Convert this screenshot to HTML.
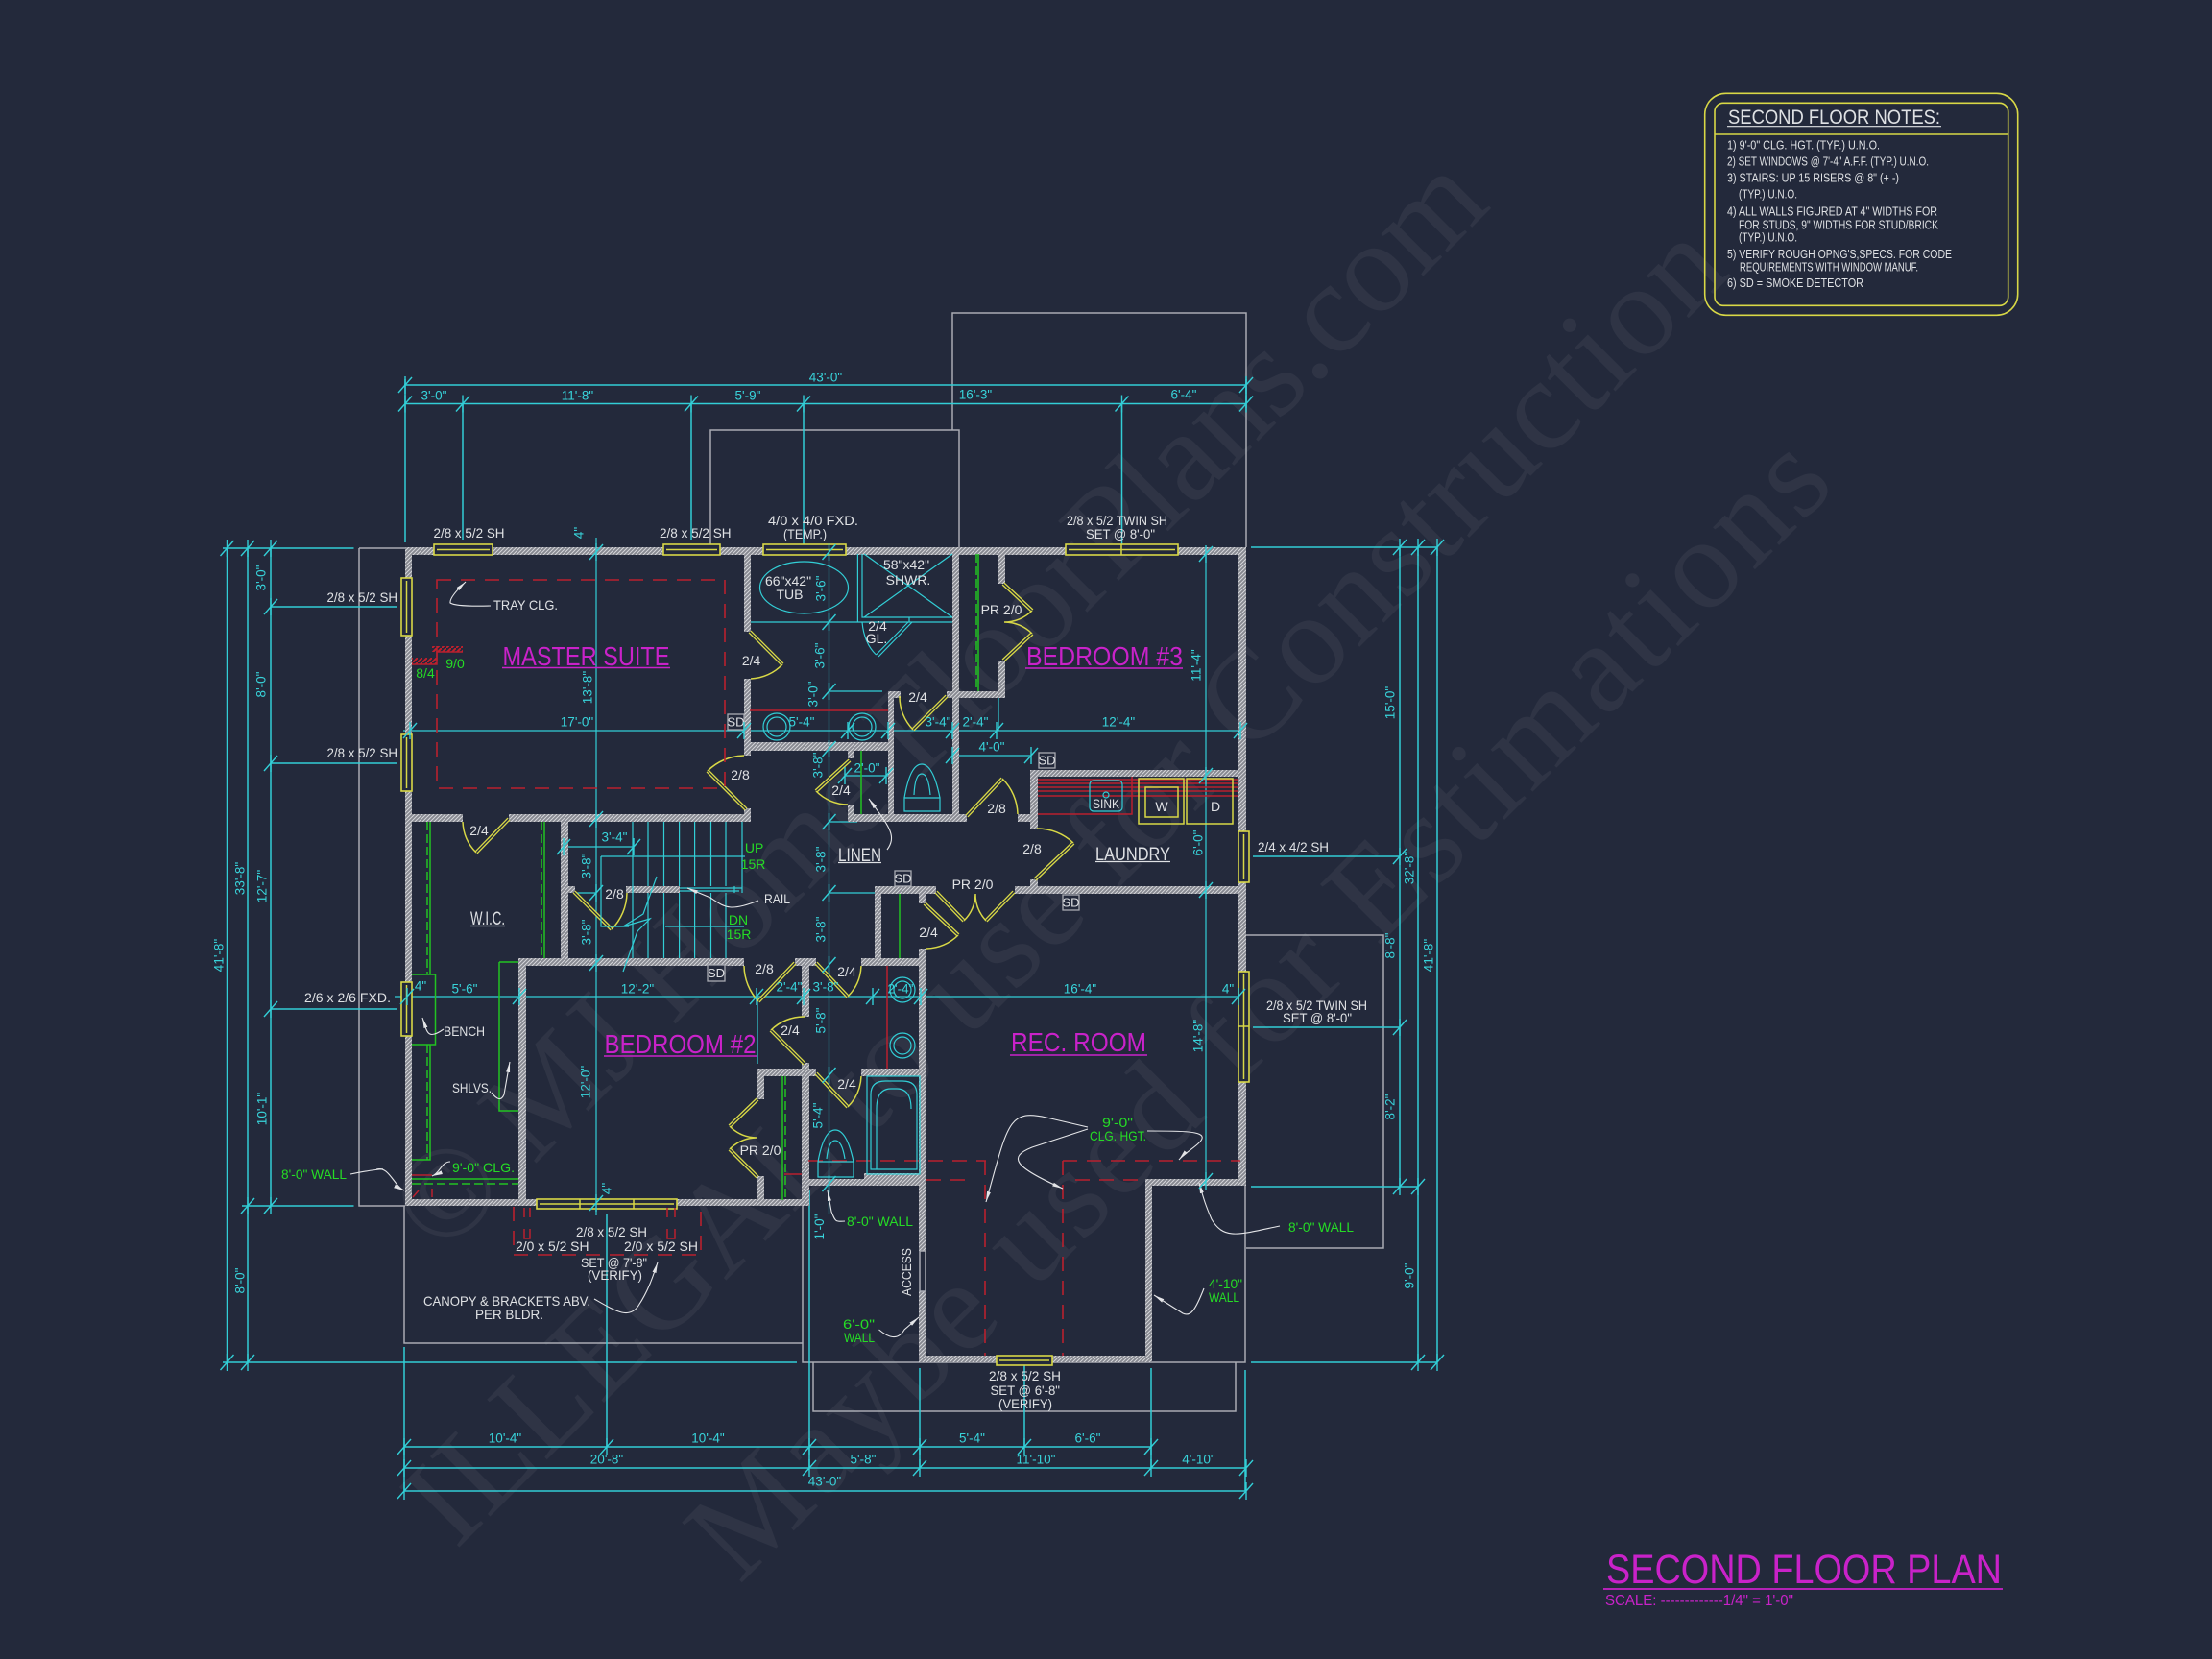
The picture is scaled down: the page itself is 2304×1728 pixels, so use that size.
<!DOCTYPE html>
<html lang="en"><head><meta charset="utf-8"><title>Second Floor Plan</title>
<style>
html,body{margin:0;padding:0;background:#23293b;width:2304px;height:1728px;overflow:hidden}
svg{display:block;font-family:"Liberation Sans",sans-serif}
.c{fill:#38d3da;font-size:13.5px;text-anchor:middle;dominant-baseline:central}
.d{fill:#dfe1e4;font-size:14px;text-anchor:middle;dominant-baseline:central}
.w{fill:#dfe1e4;font-size:14px}
.n{fill:#dfe1e4;font-size:13px}
.g{fill:#25dc25;font-size:14px}
.m{fill:#c922c9;font-size:28px}
.l{fill:#dfe1e4;font-size:19px}
.cy{fill:none;stroke:#32ced6;stroke-width:1.5}
.cf{fill:none;stroke:#32ced6;stroke-width:1.2}
.wh{fill:none;stroke:#a9abb3;stroke-width:1.5}
.ld{fill:none;stroke:#e4e5e8;stroke-width:1.1;marker-end:url(#a)}
.y{fill:none;stroke:#d8d846;stroke-width:1.5}
.win{fill:#23293b;stroke:#d8d846;stroke-width:1.6}
.r{fill:none;stroke:#b9202e;stroke-width:1.5}
.rd{fill:none;stroke:#b9202e;stroke-width:1.6;stroke-dasharray:15 10}
.gl{fill:none;stroke:#22c322;stroke-width:1.5}
.gd{fill:none;stroke:#22c322;stroke-width:1.5;stroke-dasharray:9 4}
.ml{fill:none;stroke:#c922c9;stroke-width:1.6}
.sd{fill:#23293b;stroke:#a9abb3;stroke-width:1.3}
.wm{fill:#fff;opacity:.05;font-family:"Liberation Serif",serif;font-size:135px}
</style></head><body>
<svg xmlns="http://www.w3.org/2000/svg" width="2304" height="1728" viewBox="0 0 2304 1728">
<defs>
<pattern id="h" width="4" height="4" patternUnits="userSpaceOnUse"><rect width="4" height="4" fill="#85878f"/><path d="M-1 1L1-1M0 4L4 0M3 5L5 3" stroke="#d5d6da" stroke-width="1"/></pattern>
<pattern id="rh" width="5" height="5" patternUnits="userSpaceOnUse"><path d="M-1 6L6-1" stroke="#c2202c" stroke-width="2"/></pattern>
<marker id="a" markerWidth="12" markerHeight="6" refX="11" refY="3" orient="auto" markerUnits="userSpaceOnUse"><path d="M0 1L11 3L0 5Z" fill="#e4e5e8"/></marker>
<path id="t" d="M-7 8L7-8M0-9V9" fill="none" stroke="#32ced6" stroke-width="1.4"/>
<g id="leaves">
<path d="M781 658L815 692M777 843L737 803M530 853L496 888M598 929L637 968M828 1003L790 1043M850 1003L883 1038M838 1108L803 1073M850 1118L883 1153M885 792L850 824M986 725L951 760M1007 850L1044 811M1078 916L1118 878M975 929L1004 959M1056 929L1027 959M963 941L998 974M1045 608L1075 636M1045 688L1075 660M789 1145L760 1173M789 1226L760 1197"/>
</g>
</defs>
<rect width="2304" height="1728" fill="#23293b"/>

<!-- watermark -->
<text class="wm" transform="translate(460 1310) rotate(-45)" textLength="1548">© MJ Home FloorPlans.com</text>
<text class="wm" transform="translate(475 1615) rotate(-45)" textLength="1880">ILLEGAL to use for Construction</text>
<text class="wm" transform="translate(770 1651) rotate(-45)" textLength="1617">Maybe used for Estimations</text>

<!-- notes box -->
<rect x="1775.7" y="97.3" width="326" height="231" rx="22" fill="none" stroke="#d8d846" stroke-width="1.6"/>
<rect x="1786" y="107.3" width="305.7" height="211" rx="9" fill="none" stroke="#d8d846" stroke-width="1.6"/>
<path d="M1786 140H2091.7" stroke="#d8d846" stroke-width="1.6"/>
<text x="1800" y="129" fill="#dfe1e4" font-size="21" textLength="221" lengthAdjust="spacingAndGlyphs">SECOND FLOOR NOTES:</text>
<path d="M1799 131.7H2022" stroke="#dfe1e4" stroke-width="1.2"/>
<text class="n" x="1799" y="155.7" textLength="159" lengthAdjust="spacingAndGlyphs">1) 9'-0"  CLG. HGT. (TYP.) U.N.O.</text>
<text class="n" x="1799" y="172.3" textLength="210" lengthAdjust="spacingAndGlyphs">2) SET WINDOWS @ 7'-4" A.F.F. (TYP.) U.N.O.</text>
<text class="n" x="1799" y="189.7" textLength="179" lengthAdjust="spacingAndGlyphs">3) STAIRS: UP 15 RISERS @ 8" (+ -)</text>
<text class="n" x="1811" y="206.7" textLength="61" lengthAdjust="spacingAndGlyphs">(TYP.) U.N.O.</text>
<text class="n" x="1799" y="224.3" textLength="219" lengthAdjust="spacingAndGlyphs">4) ALL WALLS FIGURED AT 4" WIDTHS FOR</text>
<text class="n" x="1811" y="238.3" textLength="208" lengthAdjust="spacingAndGlyphs">FOR STUDS, 9" WIDTHS FOR STUD/BRICK</text>
<text class="n" x="1811" y="251.7" textLength="61" lengthAdjust="spacingAndGlyphs">(TYP.) U.N.O.</text>
<text class="n" x="1799" y="269" textLength="234" lengthAdjust="spacingAndGlyphs">5) VERIFY ROUGH OPNG'S,SPECS. FOR CODE</text>
<text class="n" x="1812" y="282.7" textLength="186" lengthAdjust="spacingAndGlyphs">REQUIREMENTS WITH WINDOW MANUF.</text>
<text class="n" x="1799" y="299" textLength="142" lengthAdjust="spacingAndGlyphs">6) SD = SMOKE DETECTOR</text>

<!-- building outlines -->
<path class="wh" d="M992 448V326H1298V570M740 570V448H999V570M374 571H422M374 571V1256H422M421 1256V1399H836M836 1256V1419H1297V1235M847 1419V1470H1287V1419M1298 974H1441V1300H1298"/>

<!-- dimension lines -->
<path class="cy" d="M421 401H1298M422 420.5H1298M422 395V565M482 420V562M720 420V562M837 420V570M1168.5 420V570M1298 395V425"/>
<path class="cy" d="M236.5 571V1419M258 571V1419M282 571V1256M232 571H368.5M252 1256H368.5M282 632H414M282 795H414M282 1051H414M232 1419H830"/>
<path class="cy" d="M1303 570H1497M1305 892H1458M1305 1070H1458M1303 1236H1477M1303 1419H1497M1458 570V1236M1477 570V1419M1497 570V1419"/>
<path class="cy" d="M421 1507H1199M421 1529H1298M421 1553H1298M421 1403V1553M632 1264V1507M843 1240V1529M958 1425V1529M1067 1419V1507M1199 1425V1529M1297 1427V1553"/>
<path class="cf" d="M621 560V1266M420 761H1298M411 1038H1298M1256 570V1230M863.5 573V1265M781 648H992M863 720H919M863 780H880M863 856H893M863 930H911M880 808H925M992 787H1074M587 882H660M599 930H621M1040 727V761M789 1038V1108M1293 1040H1301"/>
<g>
<use href="#t" x="422" y="401"/><use href="#t" x="1298" y="401"/><use href="#t" x="422" y="420.5"/><use href="#t" x="482" y="420.5"/><use href="#t" x="720" y="420.5"/><use href="#t" x="837" y="420.5"/><use href="#t" x="1168.5" y="420.5"/><use href="#t" x="1298" y="420.5"/>
<use href="#t" x="236.5" y="571"/><use href="#t" x="258" y="571"/><use href="#t" x="282" y="571"/><use href="#t" x="282" y="632"/><use href="#t" x="282" y="795"/><use href="#t" x="282" y="1051"/><use href="#t" x="258" y="1256"/><use href="#t" x="282" y="1256"/><use href="#t" x="236.5" y="1419"/><use href="#t" x="258" y="1419"/>
<use href="#t" x="1458" y="570"/><use href="#t" x="1477" y="570"/><use href="#t" x="1497" y="570"/><use href="#t" x="1458" y="892"/><use href="#t" x="1458" y="1070"/><use href="#t" x="1458" y="1236"/><use href="#t" x="1477" y="1236"/><use href="#t" x="1477" y="1419"/><use href="#t" x="1497" y="1419"/>
<use href="#t" x="421" y="1507"/><use href="#t" x="632" y="1507"/><use href="#t" x="843" y="1507"/><use href="#t" x="958" y="1507"/><use href="#t" x="1067" y="1507"/><use href="#t" x="1199" y="1507"/>
<use href="#t" x="421" y="1529"/><use href="#t" x="843" y="1529"/><use href="#t" x="958" y="1529"/><use href="#t" x="1199" y="1529"/><use href="#t" x="1298" y="1529"/><use href="#t" x="421" y="1553"/><use href="#t" x="1298" y="1553"/>
</g>

<!-- walls -->
<path fill="url(#h)" d="M422 570H1298V578H422ZM422 570H429V1256H422ZM1290 570H1298V1235H1290ZM422 1249H843V1256H422ZM775 570H782V658H775ZM775 707H782V787H775ZM775 842H782V856H775ZM422 848H482V856H422ZM530 848H782V856H530ZM777 773H931V782H777ZM925 720H931V856H925ZM925 720H938V727H925ZM883 782H890V790H883ZM883 838H890V856H883ZM883 848H1007V856H883ZM992 570H999V856H992ZM986 720H1047V727H986ZM1040 577H1047V608H1040ZM1040 688H1047V727H1040ZM1073 802H1081V863H1073ZM1073 802H1297V809H1073ZM1060 848H1073V856H1060ZM1057 923H1297V931H1057ZM1073 916H1081V923H1073ZM911 923H918V998H911ZM911 923H975V931H911ZM957 931H964V941H957ZM897 998H964V1006H897ZM957 988H965V1303H957ZM957 1345H965V1419H957ZM828 998H850V1006H828ZM835 1006H843V1059H835ZM835 1107H843V1253H835ZM788 1113H850V1121H788ZM788 1121H796V1145H788ZM788 1225H796V1250H788ZM897 1113H964V1121H897ZM843 1228H964V1235H843ZM900 1222H964V1228H900ZM1193 1228H1200V1419H1193ZM1193 1228H1297V1235H1193ZM958 1412H1200V1419H958ZM540 998H548V1256H540ZM540 998H775V1006H540ZM584 856H592V998H584ZM591 923H599V930H591ZM652 923H708V930H652Z"/>
<rect class="wh" x="958" y="1303" width="6" height="42" stroke-width="1"/>

<!-- windows -->
<g>
<rect class="win" x="452" y="567" width="61" height="11"/><path class="y" d="M455 572.5H510"/>
<rect class="win" x="691" y="567" width="59" height="11"/><path class="y" d="M694 572.5H747"/>
<rect class="win" x="795" y="567" width="86" height="11"/><path class="y" d="M798 572.5H878"/>
<rect class="win" x="1110" y="567" width="117" height="11"/><path class="y" d="M1113 572.5H1224M1168 567V578"/>
<rect class="win" x="418" y="602" width="11" height="60"/><path class="y" d="M423.5 605V659"/>
<rect class="win" x="418" y="765" width="11" height="59"/><path class="y" d="M423.5 768V821"/>
<rect class="win" x="418" y="1023" width="11" height="56"/><path class="y" d="M423.5 1026V1076"/>
<rect class="win" x="559" y="1249" width="146" height="10"/><path class="y" d="M562 1254H702M604 1249V1259M660 1249V1259"/>
<rect class="win" x="1290" y="866" width="11" height="53"/><path class="y" d="M1295.5 869V916"/>
<rect class="win" x="1290" y="1012" width="11" height="115"/><path class="y" d="M1295.5 1015V1124M1290 1069H1301"/>
<rect class="win" x="1038" y="1412" width="58" height="10"/><path class="y" d="M1041 1417H1093"/>
</g>

<!-- doors -->
<use href="#leaves" stroke="#d8d846" stroke-width="4" fill="none"/>
<use href="#leaves" stroke="#23293b" stroke-width="1.3" fill="none"/>
<path class="y" d="M815 692A48 48 0 0 1 782 707M737 803A56 56 0 0 1 775 787M496 888A48 48 0 0 1 482 856M637 968A55 55 0 0 0 653 930M790 1043A55 55 0 0 1 775 1006M883 1038A48 48 0 0 0 897 1006M803 1073A49 49 0 0 1 838 1059M883 1153A48 48 0 0 0 897 1121M850 824A47 47 0 0 0 883 838M951 760A49 49 0 0 1 937 725M1044 811A54 54 0 0 1 1060 848M1118 878A55 55 0 0 0 1080 863M1004 959A41 41 0 0 0 1016 931M1027 959A41 41 0 0 1 1016 931M998 974A48 48 0 0 1 965 988M1075 636A41 41 0 0 1 1046 648M1075 660A41 41 0 0 0 1046 648M760 1173A40 40 0 0 0 788 1185M760 1197A41 41 0 0 1 788 1185"/>

<!-- red -->
<rect class="rd" x="455" y="604" width="300" height="217"/>
<rect x="429" y="685" width="26" height="7" fill="url(#rh)"/><rect x="450" y="673" width="32" height="6" fill="url(#rh)"/>
<path class="r" d="M429 692H455V679H482"/>
<path class="r" d="M781 740H925"/>
<path class="r" d="M1081 812H1290M1081 816H1290M1081 820H1290M1081 824H1290M1081 829H1290M1081 848H1179V809M924 1006V1113M817 1223H835"/>
<path class="rd" d="M842 1209H1027M1026 1209V1412M1107 1209H1292M1107 1209V1412M965 1229H1013M1120 1229H1193"/>
<path class="r" d="M429 1224H450M430 1247L436 1240M450 1238V1247"/>
<path class="rd" stroke-dasharray="9 6" d="M535 1257V1307H730V1257M535 1307H730"/>
<path class="r" d="M546 1258V1268M552 1258V1268M546 1280V1290H552V1280M695 1258V1268M703 1258V1268M695 1280V1290H703V1280"/>

<!-- green -->
<path class="gl" d="M448 856V1015M429 1015H453.5V1088H429M448 1088V1208H429M567 856V998M520 1002V1157H540M520 1002H540M429 1228H540M1019 577V720M897 782V848M937 931V998M815 1121V1250"/>
<path class="gd" d="M445 856V1015M445 1088V1208M564 856V998M429 1233H540M1017 577V720M818 1121V1250"/>

<!-- bath fixtures -->
<ellipse class="cf" cx="837.5" cy="612" rx="46" ry="27"/>
<path class="cf" d="M893.4 577V643M898 577V643H992M893.4 643V648M900 577L992 643M992 577L900 643M946 648L912.5 682M950 648L915 684M912.5 682Q900 670 898 648M947 643V648"/>
<circle class="cf" cx="809" cy="757" r="14"/><circle class="cf" cx="809" cy="757" r="10"/><circle class="cf" cx="898" cy="757" r="14"/><circle class="cf" cx="898" cy="757" r="10"/>
<circle class="cf" cx="940" cy="1031" r="13"/><circle class="cf" cx="940" cy="1031" r="9"/><circle class="cf" cx="940" cy="1089" r="13"/><circle class="cf" cx="940" cy="1089" r="9"/>
<path class="cf" d="M942 831H979V845H942ZM942 831Q948 796 960 796Q972 796 979 831M952 828Q953 806 960 806Q967 806 969 828"/>
<path class="cf" d="M852 1210H889V1226H852ZM852 1210Q858 1177 870 1177Q882 1177 889 1210M861 1207Q863 1188 870 1188Q877 1188 880 1207"/>
<rect class="cf" x="903" y="1121" width="55" height="102"/>
<path class="cf" d="M907 1218V1140Q907 1126 922 1126H940Q955 1126 955 1140V1218ZM913 1218V1155Q913 1134 928 1134H934Q949 1134 949 1155"/>
<rect class="cf" x="1135" y="813" width="34" height="32" rx="4"/><circle class="cf" cx="1152" cy="828" r="3"/>
<rect class="y" x="1186" y="811" width="47" height="47"/><rect class="y" x="1193" y="820" width="34" height="31"/><rect class="y" x="1236" y="811" width="48" height="47"/>

<!-- stairs -->
<path class="cf" d="M659 856V998M675 856V923M675 930V998M691.5 856V923M691.5 930V998M707.6 856V923M707.6 930V998M723.6 856V923M723.6 930V998M740.5 856V923M740.5 930V998M756 856V923M756 930V998M773 856V930M626 892H776M626 892V965H655M693 965H775M708 925H773M708 928H770M765 923V930"/>
<path class="cf" d="M684 913L670 952L649 965L677 957L664 970L649 1012"/>

<!-- SD -->
<g>
<rect class="sd" x="758" y="744" width="17" height="16"/><rect class="sd" x="1082" y="784" width="17" height="16"/><rect class="sd" x="932" y="907" width="17" height="16"/><rect class="sd" x="1107" y="932" width="17" height="16"/><rect class="sd" x="737" y="1005" width="18" height="17"/>
<text class="d" x="766.5" y="752" style="font-size:13px">SD</text><text class="d" x="1090.5" y="792" style="font-size:13px">SD</text><text class="d" x="940.5" y="915" style="font-size:13px">SD</text><text class="d" x="1115.5" y="940" style="font-size:13px">SD</text><text class="d" x="746" y="1013.5" style="font-size:13px">SD</text>
</g>

<!-- leaders -->
<path class="ld" d="M511 631Q475 632 469 628Q468 622 485 606"/>
<path class="ld" d="M365 1223C400 1216 405 1218 392 1218C405 1214 410 1235 421 1240"/>
<path class="ld" d="M469 1210C460 1210 458 1222 450 1225"/>
<path class="ld" d="M462 1072C445 1084 445 1075 440 1060"/>
<path class="ld" d="M512 1138Q521 1150 525 1140L531 1106"/>
<path class="ld" d="M790 938C760 950 755 945 740 935L716 925"/>
<path class="ld" d="M924 885C935 870 925 860 905 832"/>
<path class="ld" d="M1133 1174L1090 1164C1050 1155 1050 1170 1027 1252"/>
<path class="ld" d="M1133 1176L1075 1195C1050 1205 1055 1215 1107 1238"/>
<path class="ld" d="M1195 1178C1230 1178 1255 1178 1252 1186C1250 1192 1235 1200 1228 1208"/>
<path class="ld" d="M1333 1277C1290 1286 1275 1292 1262 1270C1256 1256 1254 1250 1249 1232"/>
<path class="ld" d="M619 1353C640 1365 655 1375 665 1360C675 1345 680 1330 685 1315"/>
<path class="ld" d="M915.5 1385C925 1393 935 1397 942 1385L957 1372"/>
<path class="ld" d="M1254 1342C1245 1365 1240 1372 1232 1368L1202 1349"/>
<path class="ld" d="M880 1272C870 1273 870 1272 866 1262L862 1240"/>

<!-- room titles -->
<text class="m" x="523.5" y="693" textLength="174" lengthAdjust="spacingAndGlyphs">MASTER SUITE</text>
<text class="m" x="1069" y="693" textLength="163" lengthAdjust="spacingAndGlyphs">BEDROOM #3</text>
<text class="m" x="629.5" y="1097" textLength="158" lengthAdjust="spacingAndGlyphs">BEDROOM #2</text>
<text class="m" x="1053" y="1095" textLength="141" lengthAdjust="spacingAndGlyphs">REC. ROOM</text>
<path class="ml" d="M523 695.5H698M1068 696H1232M629 1100H788M1052 1099H1195"/>
<text class="l" x="873" y="897" textLength="45" lengthAdjust="spacingAndGlyphs">LINEN</text>
<text class="l" x="1141" y="896" textLength="78" lengthAdjust="spacingAndGlyphs">LAUNDRY</text>
<text class="l" x="490" y="963" textLength="36" lengthAdjust="spacingAndGlyphs">W.I.C.</text>
<path d="M873 898.5H918M1141 897.5H1219M490 964.5H526" stroke="#dfe1e4" stroke-width="1.2"/>

<!-- white labels -->
<g>
<text class="w" x="451.5" y="560" textLength="74" lengthAdjust="spacingAndGlyphs">2/8 x 5/2 SH</text>
<text class="w" x="687" y="560" textLength="74.5" lengthAdjust="spacingAndGlyphs">2/8 x 5/2 SH</text>
<text class="w" x="800" y="547" textLength="94" lengthAdjust="spacingAndGlyphs">4/0 x 4/0 FXD.</text>
<text class="w" x="816" y="561" textLength="45" lengthAdjust="spacingAndGlyphs">(TEMP.)</text>
<text class="w" x="1111" y="547" textLength="105" lengthAdjust="spacingAndGlyphs">2/8 x 5/2 TWIN SH</text>
<text class="w" x="1131" y="561" textLength="72" lengthAdjust="spacingAndGlyphs">SET @ 8'-0"</text>
<text class="w" x="340.5" y="627" textLength="73.5" lengthAdjust="spacingAndGlyphs">2/8 x 5/2 SH</text>
<text class="w" x="340.5" y="789" textLength="73.5" lengthAdjust="spacingAndGlyphs">2/8 x 5/2 SH</text>
<text class="w" x="317" y="1044" textLength="90" lengthAdjust="spacingAndGlyphs">2/6 x 2/6 FXD.</text>
<text class="w" x="1310" y="887" textLength="74" lengthAdjust="spacingAndGlyphs">2/4 x 4/2 SH</text>
<text class="w" x="1319" y="1052" textLength="105" lengthAdjust="spacingAndGlyphs">2/8 x 5/2 TWIN SH</text>
<text class="w" x="1336" y="1065" textLength="72" lengthAdjust="spacingAndGlyphs">SET @ 8'-0"</text>
<text class="w" x="514" y="635" textLength="67" lengthAdjust="spacingAndGlyphs">TRAY CLG.</text>
<text class="w" x="462" y="1079" textLength="43" lengthAdjust="spacingAndGlyphs">BENCH</text>
<text class="w" x="471" y="1138" textLength="41" lengthAdjust="spacingAndGlyphs">SHLVS.</text>
<text class="w" x="796" y="941" textLength="27" lengthAdjust="spacingAndGlyphs">RAIL</text>
<text class="w" x="600" y="1288" textLength="74" lengthAdjust="spacingAndGlyphs">2/8 x 5/2 SH</text>
<text class="w" x="537" y="1303" textLength="76.5" lengthAdjust="spacingAndGlyphs">2/0 x 5/2 SH</text>
<text class="w" x="650" y="1303" textLength="77" lengthAdjust="spacingAndGlyphs">2/0 x 5/2 SH</text>
<text class="w" x="605" y="1320" textLength="69" lengthAdjust="spacingAndGlyphs">SET @ 7'-8"</text>
<text class="w" x="612" y="1333" textLength="57" lengthAdjust="spacingAndGlyphs">(VERIFY)</text>
<text class="w" x="441" y="1360" textLength="174" lengthAdjust="spacingAndGlyphs">CANOPY &amp; BRACKETS ABV.</text>
<text class="w" x="495" y="1374" textLength="71" lengthAdjust="spacingAndGlyphs">PER BLDR.</text>
<text class="w" x="1030" y="1438" textLength="75" lengthAdjust="spacingAndGlyphs">2/8 x 5/2 SH</text>
<text class="w" x="1031.5" y="1453" textLength="72.5" lengthAdjust="spacingAndGlyphs">SET @ 6'-8"</text>
<text class="w" x="1040" y="1467" textLength="56" lengthAdjust="spacingAndGlyphs">(VERIFY)</text>
<text class="w" text-anchor="middle" transform="translate(949 1325) rotate(-90)" textLength="50" lengthAdjust="spacingAndGlyphs">ACCESS</text>
<text class="w" x="1138" y="842" textLength="28" lengthAdjust="spacingAndGlyphs">SINK</text>
</g>
<g>
<text class="d" x="782.6" y="688">2/4</text><text class="d" x="771" y="807">2/8</text><text class="d" x="499" y="865">2/4</text><text class="d" x="640" y="931">2/8</text><text class="d" x="796" y="1009">2/8</text><text class="d" x="882" y="1012">2/4</text><text class="d" x="823" y="1073">2/4</text><text class="d" x="882" y="1129">2/4</text><text class="d" x="876" y="823">2/4</text><text class="d" x="956" y="726">2/4</text><text class="d" x="1038" y="842">2/8</text><text class="d" x="1075" y="884">2/8</text><text class="d" x="1013" y="921">PR 2/0</text><text class="d" x="967" y="971">2/4</text><text class="d" x="1043" y="635">PR 2/0</text><text class="d" x="792" y="1198">PR 2/0</text>
<text class="d" x="821" y="605">66"x42"</text><text class="d" x="822.5" y="619">TUB</text><text class="d" x="944" y="588">58"x42"</text><text class="d" x="946" y="604">SHWR.</text><text class="d" x="914" y="652">2/4</text><text class="d" x="913" y="665">GL.</text>
<text class="d" x="1210" y="840">W</text><text class="d" x="1266" y="840">D</text>
</g>

<!-- green labels -->
<g>
<text class="g" x="474" y="696" text-anchor="middle">9/0</text>
<text class="g" x="443" y="706" text-anchor="middle">8/4</text>
<text class="g" x="785.6" y="888" text-anchor="middle">UP</text><text class="g" x="784.5" y="905" text-anchor="middle">15R</text>
<text class="g" x="769" y="963" text-anchor="middle">DN</text><text class="g" x="769.5" y="978" text-anchor="middle">15R</text>
<text class="g" x="471" y="1221" textLength="65" lengthAdjust="spacingAndGlyphs">9'-0" CLG.</text>
<text class="g" x="293" y="1228" textLength="68" lengthAdjust="spacingAndGlyphs">8'-0" WALL</text>
<text class="g" x="1342" y="1283" textLength="68" lengthAdjust="spacingAndGlyphs">8'-0" WALL</text>
<text class="g" x="882" y="1277" textLength="69" lengthAdjust="spacingAndGlyphs">8'-0" WALL</text>
<text class="g" x="878" y="1384" textLength="33" lengthAdjust="spacingAndGlyphs">6'-0"</text>
<text class="g" x="879" y="1398" textLength="32" lengthAdjust="spacingAndGlyphs">WALL</text>
<text class="g" x="1259" y="1342" textLength="35" lengthAdjust="spacingAndGlyphs">4'-10"</text>
<text class="g" x="1259" y="1356" textLength="32" lengthAdjust="spacingAndGlyphs">WALL</text>
<text class="g" x="1148" y="1174" textLength="32" lengthAdjust="spacingAndGlyphs">9'-0"</text>
<text class="g" x="1135" y="1188" textLength="59" lengthAdjust="spacingAndGlyphs">CLG. HGT.</text>
</g>

<!-- dimension labels -->
<g>
<text class="c" x="452" y="412">3'-0"</text><text class="c" x="601.5" y="412">11'-8"</text><text class="c" x="779" y="412">5'-9"</text><text class="c" x="860" y="393">43'-0"</text><text class="c" x="1016" y="411">16'-3"</text><text class="c" x="1233" y="411">6'-4"</text>
<text class="c" x="601" y="752">17'-0"</text><text class="c" x="835" y="752">5'-4"</text><text class="c" x="977" y="752">3'-4"</text><text class="c" x="1016" y="752">2'-4"</text><text class="c" x="1165" y="752">12'-4"</text>
<text class="c" x="438" y="1027">4"</text><text class="c" x="484" y="1030">5'-6"</text><text class="c" x="664" y="1030">12'-2"</text><text class="c" x="822" y="1028">2'-4"</text><text class="c" x="860" y="1028">3'-8"</text><text class="c" x="938" y="1030">2'-4"</text><text class="c" x="1125" y="1030">16'-4"</text><text class="c" x="1279" y="1030">4"</text>
<text class="c" x="903" y="800">2'-0"</text><text class="c" x="1033" y="778">4'-0"</text><text class="c" x="640" y="872">3'-4"</text>
<text class="c" x="526" y="1498">10'-4"</text><text class="c" x="737.5" y="1498">10'-4"</text><text class="c" x="632" y="1520">20'-8"</text><text class="c" x="899" y="1520">5'-8"</text><text class="c" x="1012.5" y="1498">5'-4"</text><text class="c" x="1133" y="1498">6'-6"</text><text class="c" x="1079" y="1520">11'-10"</text><text class="c" x="1248.5" y="1520">4'-10"</text><text class="c" x="859" y="1543">43'-0"</text>
<text class="c" transform="translate(228 995) rotate(-90)">41'-8"</text><text class="c" transform="translate(250 915) rotate(-90)">33'-8"</text><text class="c" transform="translate(273 923) rotate(-90)">12'-7"</text><text class="c" transform="translate(273 1155) rotate(-90)">10'-1"</text><text class="c" transform="translate(272 602) rotate(-90)">3'-0"</text><text class="c" transform="translate(272 713) rotate(-90)">8'-0"</text><text class="c" transform="translate(250 1334) rotate(-90)">8'-0"</text>
<text class="c" transform="translate(1448 732) rotate(-90)">15'-0"</text><text class="c" transform="translate(1468 904) rotate(-90)">32'-8"</text><text class="c" transform="translate(1488 995) rotate(-90)">41'-8"</text><text class="c" transform="translate(1448 985) rotate(-90)">8'-8"</text><text class="c" transform="translate(1448 1153) rotate(-90)">8'-2"</text><text class="c" transform="translate(1468 1329) rotate(-90)">9'-0"</text>
<text class="c" transform="translate(1246 693) rotate(-90)">11'-4"</text><text class="c" transform="translate(1248 878) rotate(-90)">6'-0"</text><text class="c" transform="translate(1248 1079) rotate(-90)">14'-8"</text>
<text class="c" transform="translate(855 613) rotate(-90)">3'-6"</text><text class="c" transform="translate(854 683) rotate(-90)">3'-6"</text><text class="c" transform="translate(847 723) rotate(-90)">3'-0"</text><text class="c" transform="translate(852 797) rotate(-90)">3'-8"</text><text class="c" transform="translate(855 895) rotate(-90)">3'-8"</text><text class="c" transform="translate(855 968) rotate(-90)">3'-8"</text><text class="c" transform="translate(855 1063) rotate(-90)">5'-8"</text><text class="c" transform="translate(852 1162) rotate(-90)">5'-4"</text>
<text class="c" transform="translate(611 902) rotate(-90)">3'-8"</text><text class="c" transform="translate(611 971) rotate(-90)">3'-8"</text><text class="c" transform="translate(610 1127) rotate(-90)">12'-0"</text><text class="c" transform="translate(612 716) rotate(-90)">13'-8"</text><text class="c" transform="translate(603 555) rotate(-90)">4"</text><text class="c" transform="translate(632 1238) rotate(-90)">4"</text><text class="c" transform="translate(853.5 1278) rotate(-90)">1'-0"</text>
</g>
<g>
<use href="#t" x="621" y="575"/><use href="#t" x="621" y="853"/><use href="#t" x="621" y="1003"/><use href="#t" x="621" y="1253"/>
<use href="#t" x="427" y="761"/><use href="#t" x="775" y="761"/><use href="#t" x="883" y="761"/><use href="#t" x="925" y="761"/><use href="#t" x="992" y="761"/><use href="#t" x="1038" y="761"/><use href="#t" x="1292" y="761"/>
<use href="#t" x="424" y="1038"/><use href="#t" x="541" y="1038"/><use href="#t" x="788" y="1038"/><use href="#t" x="837" y="1038"/><use href="#t" x="909" y="1038"/><use href="#t" x="959" y="1038"/><use href="#t" x="1290" y="1038"/>
<use href="#t" x="1256" y="577"/><use href="#t" x="1256" y="808"/><use href="#t" x="1256" y="927"/><use href="#t" x="1256" y="1230"/>
<use href="#t" x="863.5" y="575"/><use href="#t" x="863.5" y="648"/><use href="#t" x="863.5" y="720"/><use href="#t" x="863.5" y="780"/><use href="#t" x="863.5" y="856"/><use href="#t" x="863.5" y="930"/><use href="#t" x="863.5" y="1005"/><use href="#t" x="863.5" y="1120"/><use href="#t" x="863.5" y="1233"/>
<use href="#t" x="880" y="808"/><use href="#t" x="923" y="808"/><use href="#t" x="992" y="787"/><use href="#t" x="1074" y="787"/><use href="#t" x="587" y="882"/><use href="#t" x="660" y="882"/><use href="#t" x="621" y="930"/>
</g>

<!-- title -->
<text x="1673" y="1649" fill="#c922c9" font-size="43" textLength="412" lengthAdjust="spacingAndGlyphs">SECOND FLOOR PLAN</text>
<path d="M1670 1655H2086" stroke="#c922c9" stroke-width="1.8"/>
<text x="1672" y="1672" fill="#c922c9" font-size="16" textLength="196" lengthAdjust="spacingAndGlyphs">SCALE: -------------1/4" = 1'-0"</text>
</svg>
</body></html>
